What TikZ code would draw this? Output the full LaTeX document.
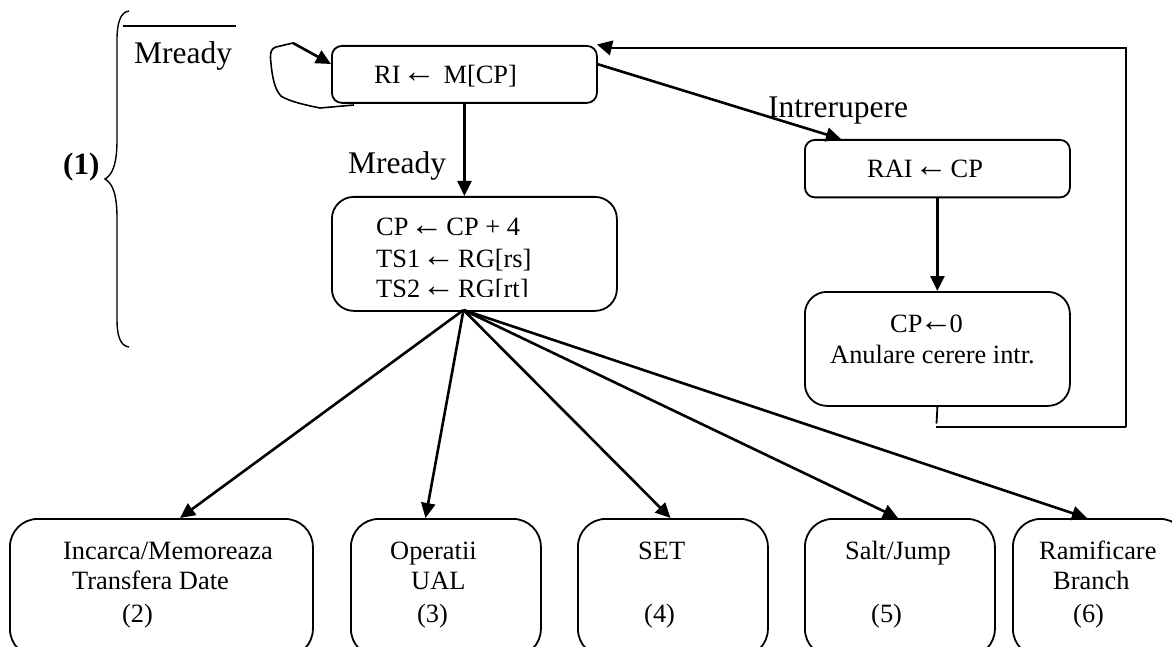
\documentclass[tikz,border=0pt]{standalone}
\usepackage{fontspec}
\setmainfont{Liberation Serif}
\usetikzlibrary{arrows.meta}
\newcommand{\larr}{\hspace{2pt}\raisebox{1pt}{\fontsize{33}{32}\selectfont ←}\hspace{3pt}}
\newcommand{\larrtight}{\hspace{-3pt}\raisebox{1pt}{\fontsize{33}{32}\selectfont ←}\hspace{-3pt}}
\tikzset{
  x=1pt,y=-1pt,
  conn/.style={line width=2.6pt,-{Triangle[length=15pt,width=14pt]}},
  plain/.style={line width=1.8pt},
  thinbox/.style={draw,line width=1.8pt,rounded corners=#1,anchor=north west},
  big/.style={inner sep=0pt,font=\fontsize{31.5}{36}\selectfont,anchor=base west},
  stat/.style={inner sep=0pt,font=\fontsize{26.4}{32}\selectfont,anchor=base west},
}
\begin{document}
\begin{tikzpicture}
\useasboundingbox (0,0) rectangle (1172,647);
\clip (0,0) rectangle (1172,647);
% boxes
\node[thinbox=10pt,minimum width=265pt,minimum height=57pt] (ri) at (331,45) {};
\node[thinbox=22pt,minimum width=285pt,minimum height=114pt] (cp) at (331,196) {};
\node[thinbox=10pt,minimum width=265pt,minimum height=57.5pt] (rai) at (804,139) {};
\node[thinbox=22pt,minimum width=265pt,minimum height=114pt] (cz) at (804,291) {};
\node[thinbox=28pt,minimum width=303pt,minimum height=138pt] (b2) at (9,518) {};
\node[thinbox=28pt,minimum width=190pt,minimum height=138pt] (b3) at (350,518) {};
\node[thinbox=28pt,minimum width=190pt,minimum height=138pt] (b4) at (577,518) {};
\node[thinbox=28pt,minimum width=190pt,minimum height=138pt] (b5) at (804,518) {};
\node[thinbox=28pt,minimum width=175pt,minimum height=138pt] (b6) at (1012,518) {};
% texts
\node[stat] (t1) at (374,84) {RI\larr\hspace{5pt}M[CP]};
\node[stat] (t2a) at (376,236) {CP\larr CP + 4};
\node[stat] (t2b) at (376,267) {TS1\larr RG[rs]};
\begin{scope}
\clip (340,270) rectangle (600,296);
\node[stat] (t2c) at (376,297) {TS2\larr RG[rt]};
\end{scope}
\node[stat] (t3) at (867,178) {RAI\larr CP};
\node[stat] (t4a) at (890,332) {CP\larrtight 0};
\node[stat] (t4b) at (830,363) {Anulare cerere intr.};
\node[stat] (t5a) at (63,559) {Incarca/Memoreaza};
\node[stat] (t5b) at (72,589) {Transfera Date};
\node[stat] (t5c) at (122,622) {(2)};
\node[stat] (t6a) at (390,559) {Operatii};
\node[stat] (t6b) at (411,589) {UAL};
\node[stat] (t6c) at (417,622) {(3)};
\node[stat] (t7a) at (638,559) {SET};
\node[stat] (t7c) at (644,622) {(4)};
\node[stat] (t8a) at (845,559) {Salt/Jump};
\node[stat] (t8c) at (871,622) {(5)};
\node[stat] (t9a) at (1039,559) {Ramificare};
\node[stat] (t9b) at (1053,589) {Branch};
\node[stat] (t9c) at (1073,622) {(6)};
\node[big] (m1) at (134,64) {Mready};
\node[big] (m2) at (348,174) {Mready};
\node[big] (ir) at (768,118) {Intrerupere};
\node[big,font=\fontsize{31}{36}\selectfont\bfseries] (one) at (63,175) {(1)};
% overbar
\coordinate (ob1) at (122.5,25.7);
\coordinate (ob2) at (236,25.7);
\draw[plain] (ob1) -- (ob2);
% brace
\coordinate (brt) at (129,11);
\coordinate (brm) at (105,179);
\coordinate (brb) at (129,347);
\draw[line width=1.4pt] (brt) .. controls (120,12) and (117,24) .. (117,40)
  -- (117,140) .. controls (117,165) and (112,175) .. (brm)
  .. controls (112,183) and (117,193) .. (117,218)
  -- (117,320) .. controls (117,335) and (120,346) .. (brb);
% connectors
\coordinate (riout) at (597,64);
\coordinate (raiin) at (841,139);
\draw[conn] (ri.south) -- (ri.south |- cp.north);
\draw[conn] (riout) -- (raiin);
\draw[conn] (rai.south) -- (cz.north);
\coordinate (fan) at (463.5,310);
\coordinate (in2) at (180,518);
\coordinate (in3) at (425.5,518);
\coordinate (in4) at (670.5,518);
\coordinate (in5) at (898,518);
\coordinate (in6) at (1087,518);
\draw[conn] (fan) -- (in2);
\draw[conn] (fan) -- (in3);
\draw[conn] (fan) -- (in4);
\draw[conn] (fan) -- (in5);
\draw[conn] (fan) -- (in6);
% return line
\coordinate (r1) at (936.5,423.5);
\coordinate (r2) at (936,427);
\coordinate (r3) at (1126,427);
\coordinate (r4) at (1126,48);
\coordinate (r5) at (612,48);
\coordinate (r6) at (597,44.5);
\draw[line width=1.8pt] (cz.south) -- (r1);
\draw[line width=2.4pt] (r2) -- (r3);
\draw[line width=1.8pt] (r3) -- (r4) -- (r5);
\draw[line width=1.4pt,-{Triangle[length=15pt,width=15pt]}] (r5) -- (r6);
% self loop
\coordinate (s1) at (354,105);
\coordinate (s2) at (293,43);
\coordinate (s3) at (331,64);
\draw[line width=1.6pt] (s1) -- (320,108)
  .. controls (305,105) and (288,101) .. (281,96)
  .. controls (275,90) and (272,78) .. (270.5,58)
  .. controls (270,52) and (272,48) .. (276,47)
  -- (s2);
\draw[conn] (s2) -- (s3);
\end{tikzpicture}
\end{document}
